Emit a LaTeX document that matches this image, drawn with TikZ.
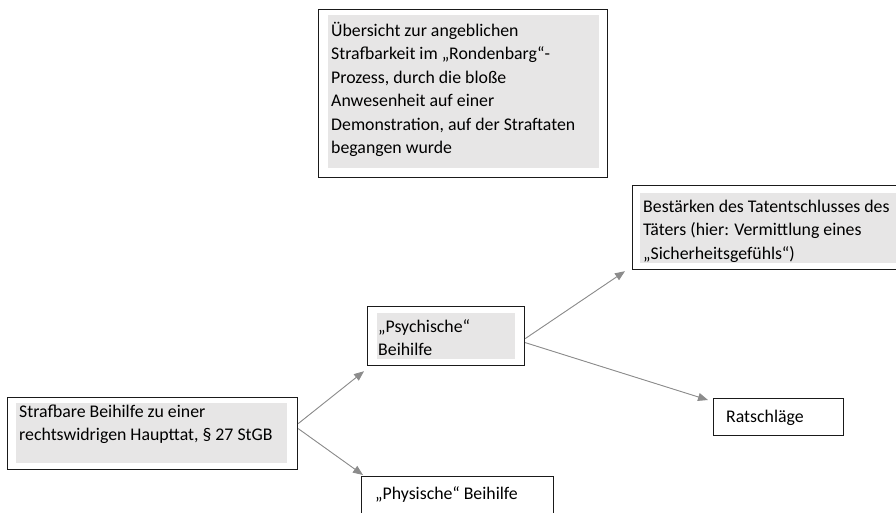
\documentclass[tikz,border=0pt]{standalone}
\usepackage{fontspec}
\setmainfont{Carlito}
\usetikzlibrary{arrows.meta}
\definecolor{boxgray}{HTML}{E7E6E6}
\definecolor{arrowgray}{HTML}{8C8C8C}
\definecolor{boxline}{HTML}{1A1A1A}
\tikzset{
  outerbox/.style={draw=boxline, line width=1.2pt, fill=white, rectangle, inner sep=0pt, anchor=north west},
  fillbox/.style={fill=boxgray, rectangle, inner sep=0pt, anchor=north west},
  txt/.style={inner sep=0pt, anchor=north west, align=left, font=\fontsize{17.8}{23.5}\selectfont},
  conn/.style={draw=arrowgray, line width=0.9pt, -{Triangle[length=10pt,width=8pt]}, fill=arrowgray}
}
\begin{document}
\begin{tikzpicture}[x=1pt,y=-1pt]
\useasboundingbox (0,0) rectangle (896,512);
% top box
\node[outerbox, minimum width=289pt, minimum height=168pt] (top) at (318,9) {};
\node[fillbox, minimum width=271pt, minimum height=153pt] (topfill) at (328,15) {};
\node[txt] (toptxt) at (331,19.5) {\strut Übersicht zur angeblichen\\Strafbarkeit im „Rondenbarg“-\\Prozess, durch die bloße\\Anwesenheit auf einer\\Demonstration, auf der Straftaten\\begangen wurde};
% Bestärken
\node[outerbox, minimum width=280pt, minimum height=84pt] (best) at (632,185) {};
\node[fillbox, minimum width=270pt, minimum height=70pt] (bestfill) at (640,193) {};
\node[txt] (besttxt) at (643,195.5) {\strut Bestärken des Tatentschlusses des\\Täters (hier: Vermittlung eines\\„Sicherheitsgefühls“)};
% Strafbare
\node[outerbox, minimum width=290pt, minimum height=72pt] (straf) at (7,397) {};
\node[fillbox, minimum width=271pt, minimum height=60pt] (straffill) at (16,403) {};
\node[txt] (straftxt) at (19,400.5) {\strut Strafbare Beihilfe zu einer\\rechtswidrigen Haupttat, § 27 StGB};
% Psychische
\node[outerbox, minimum width=157pt, minimum height=59pt] (psy) at (367,306) {};
\node[fillbox, minimum width=138pt, minimum height=46pt] (psyfill) at (377,313) {};
\node[txt] (psytxt) at (378,315.5) {\strut „Psychische“\\Beihilfe};
% Physische
\node[outerbox, minimum width=192pt, minimum height=50pt] (phy) at (361,476) {};
\node[txt] (phytxt) at (375,482.5) {\strut „Physische“ Beihilfe};
% Ratschläge
\node[outerbox, minimum width=130pt, minimum height=37pt] (rat) at (713,398) {};
\node[txt] (rattxt) at (726,405.5) {\strut Ratschläge};
% connectors
\draw[conn] ([yshift=10pt]straf.east) -- ([xshift=-3pt,yshift=-5pt]psy.south west);
\draw[conn] ([yshift=5pt]straf.east) -- ([xshift=2pt,yshift=1pt]phy.north west);
\draw[conn] ([yshift=-2.5pt]psy.east) -- ([xshift=-7pt,yshift=-1pt]best.south west);
\draw[conn] ([yshift=-6.5pt]psy.east) -- ([xshift=-5pt,yshift=-2pt]rat.north west);
\end{tikzpicture}
\end{document}
